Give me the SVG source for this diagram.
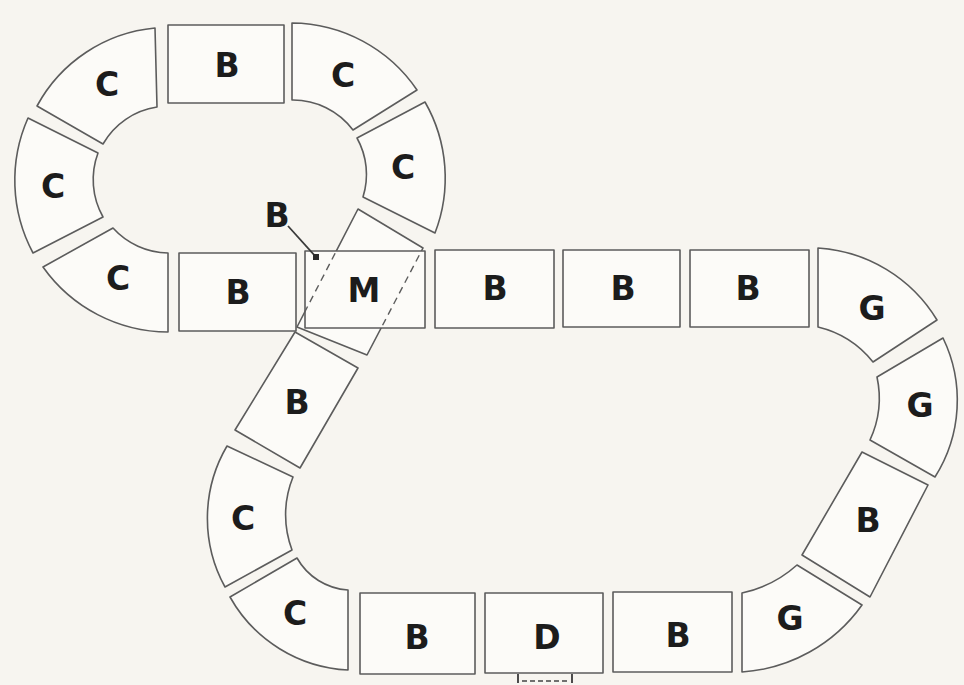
<svg xmlns="http://www.w3.org/2000/svg" width="964" height="685" viewBox="0 0 964 685">
<style>
.t{fill:#fcfbf8;stroke:#5c5c5c;stroke-width:1.6;stroke-linejoin:round}
.d{fill:none;stroke:#5c5c5c;stroke-width:1.4;stroke-dasharray:7 5}
.l{font-family:"DejaVu Sans","Liberation Sans",sans-serif;font-weight:bold;font-size:33px;text-anchor:middle;fill:#1c1c1c}
.c{fill:none;stroke:#3a3a3a;stroke-width:1.8}
</style>
<defs>
<clipPath id="mclip"><rect x="305" y="251" width="120" height="77"/></clipPath>
</defs>
<rect width="964" height="685" fill="#f7f5f0"/>

<!-- upper loop -->
<g id="tl-c"><path class="t" d="M37,106 A150,150 0 0 1 155,28 L157,107 A75,75 0 0 0 103,144 Z"/><text class="l" x="107" y="96">C</text></g>
<g id="top-b"><rect class="t" x="168" y="25" width="116" height="78"/><text class="l" x="227" y="77">B</text></g>
<g id="tr-c"><path class="t" d="M292,23 A153,153 0 0 1 417,90 L353,130 A75,75 0 0 0 292,100 Z"/><text class="l" x="343" y="87">C</text></g>
<g id="r-c"><path class="t" d="M425,102 A153,153 0 0 1 435,233 L363,197 A75,75 0 0 0 357,138 Z"/><text class="l" x="403" y="179">C</text></g>
<g id="l-c"><path class="t" d="M28,118 A154,154 0 0 0 33,253 L103,217 A76,76 0 0 1 98,153 Z"/><text class="l" x="53" y="198">C</text></g>
<g id="bl-c"><path class="t" d="M43,267 A154,154 0 0 0 168,332 L168,253 A76,76 0 0 1 113,228 Z"/><text class="l" x="118" y="290">C</text></g>
<g id="bl-b"><rect class="t" x="179" y="253" width="117" height="78"/><text class="l" x="238" y="304">B</text></g>

<!-- crossing tile (hidden B under M) -->
<g id="cross-b"><polygon class="t" points="358,209 423,248 367,355 297,327"/></g>
<g id="m"><rect class="t" x="305" y="251" width="120" height="77"/>
<polygon class="d" clip-path="url(#mclip)" points="358,209 423,248 367,355 297,327"/>
<text class="l" x="364" y="302">M</text></g>
<g id="b-label"><text class="l" x="277" y="227">B</text></g>

<!-- lower loop -->
<g id="row-b1"><rect class="t" x="435" y="250" width="119" height="78"/><text class="l" x="495" y="300">B</text></g>
<g id="row-b2"><rect class="t" x="563" y="250" width="117" height="77"/><text class="l" x="623" y="300">B</text></g>
<g id="row-b3"><rect class="t" x="690" y="250" width="119" height="77"/><text class="l" x="748" y="300">B</text></g>
<g id="tr-g"><path class="t" d="M818,248 L818,327 A100,100 0 0 1 873,362 L937,320 A150,150 0 0 0 818,248 Z"/><text class="l" x="872" y="320">G</text></g>
<g id="r-g"><path class="t" d="M943,338 A143,143 0 0 1 935,477 L870,440 A100,100 0 0 0 877,377 Z"/><text class="l" x="920" y="417">G</text></g>
<g id="r-b"><polygon class="t" points="862,452 928,485 870,597 802,555"/><text class="l" x="868" y="532">B</text></g>
<g id="br-g"><path class="t" d="M742,593 L742,672 A160,160 0 0 0 862,605 L797,565 A120,120 0 0 1 742,593 Z"/><text class="l" x="790" y="630">G</text></g>
<g id="bot-b2"><rect class="t" x="613" y="592" width="119" height="80"/><text class="l" x="678" y="647">B</text></g>
<g id="bot-d"><rect class="t" x="485" y="593" width="118" height="80"/><text class="l" x="547" y="649">D</text>
<path class="c" d="M518,674 L518,683 M572,674 L572,683" stroke-width="1.2"/>
<path d="M522,681 L568,681" stroke="#444" stroke-width="1.5" stroke-dasharray="5 3" fill="none"/></g>
<g id="bot-b1"><rect class="t" x="360" y="593" width="115" height="81"/><text class="l" x="417" y="649">B</text></g>
<g id="bl2-c"><path class="t" d="M230,597 A143,143 0 0 0 348,670 L348,590 A63,63 0 0 1 297,558 Z"/><text class="l" x="295" y="625">C</text></g>
<g id="l2-c"><path class="t" d="M227,446 A143,143 0 0 0 225,587 L292,550 A100,100 0 0 1 293,477 Z"/><text class="l" x="243" y="530">C</text></g>
<g id="l2-b"><polygon class="t" points="295,332 358,368 300,468 235,430"/><text class="l" x="297" y="414">B</text></g>

<g id="connectors">
<line class="c" x1="288" y1="226" x2="316" y2="257"/>
<rect x="313" y="254" width="6" height="6" fill="#2a2a2a"/>
</g>
</svg>
